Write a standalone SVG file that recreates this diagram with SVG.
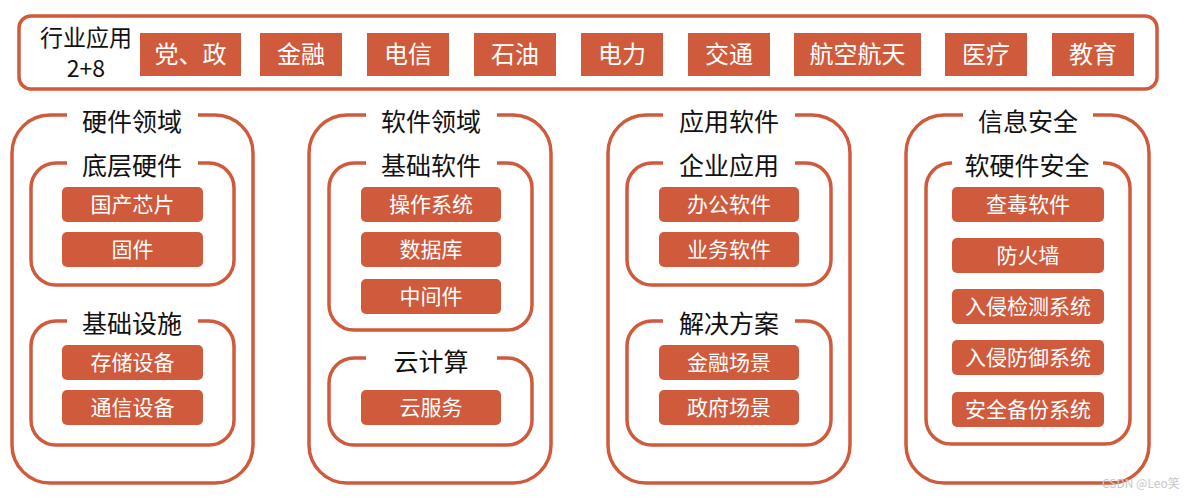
<svg xmlns="http://www.w3.org/2000/svg" width="1190" height="498" viewBox="0 0 1190 498">
<style>
.frame{fill:none;stroke:#D05A3C;stroke-width:3.5}
.top{fill:none;stroke:#D05A3C;stroke-width:3.5}
.rb{fill:#D05A3C}
.rt{fill:#fff;font-family:"Noto Sans CJK SC","Noto Sans",sans-serif;font-size:21px;text-anchor:middle;dominant-baseline:central}
.tt{fill:#fff;font-family:"Noto Sans CJK SC","Noto Sans",sans-serif;font-size:24px;text-anchor:middle;dominant-baseline:central}
.lb{fill:#111;font-family:"Noto Sans CJK SC","Noto Sans",sans-serif;font-size:25px;text-anchor:middle;dominant-baseline:central}
.wm{fill:#c8c8c8;font-family:"Noto Sans CJK SC","Noto Sans",sans-serif;font-size:12px}
</style>
<rect width="1190" height="498" fill="#fff"/>

<g id="industry">
<rect class="top" x="19" y="16" width="1138" height="73" rx="12"/>
<text class="lb" x="86" y="36" style="font-size:23px">行业应用</text>
<text class="lb" x="86" y="67" style="font-size:23px">2+8</text>
<g id="ind-1"><rect class="rb" x="140" y="33" width="101" height="43"/><text class="tt" x="190.5" y="52">党、政</text></g>
<g id="ind-2"><rect class="rb" x="260" y="33" width="82" height="43"/><text class="tt" x="301" y="52">金融</text></g>
<g id="ind-3"><rect class="rb" x="367" y="33" width="82" height="43"/><text class="tt" x="408" y="52">电信</text></g>
<g id="ind-4"><rect class="rb" x="474" y="33" width="82" height="43"/><text class="tt" x="515" y="52">石油</text></g>
<g id="ind-5"><rect class="rb" x="581" y="33" width="82" height="43"/><text class="tt" x="622" y="52">电力</text></g>
<g id="ind-6"><rect class="rb" x="688" y="33" width="82" height="43"/><text class="tt" x="729" y="52">交通</text></g>
<g id="ind-7"><rect class="rb" x="794" y="33" width="127" height="43"/><text class="tt" x="857.5" y="52">航空航天</text></g>
<g id="ind-8"><rect class="rb" x="945" y="33" width="82" height="43"/><text class="tt" x="986" y="52">医疗</text></g>
<g id="ind-9"><rect class="rb" x="1052" y="33" width="82" height="43"/><text class="tt" x="1093" y="52">教育</text></g>
</g>

<g id="hardware">
<path class="frame" d="M198 115 H215 A38 38 0 0 1 253 153 V445 A38 38 0 0 1 215 483 H50 A38 38 0 0 1 12 445 V153 A38 38 0 0 1 50 115 H67"/>
<text class="lb" x="132" y="120">硬件领域</text>
<g id="hw-base">
<path class="frame" d="M198 163 H209 A25 25 0 0 1 234 188 V260 A25 25 0 0 1 209 285 H56 A25 25 0 0 1 31 260 V188 A25 25 0 0 1 56 163 H67"/>
<text class="lb" x="132" y="164">底层硬件</text>
<g id="hw-chip"><rect class="rb" x="62" y="187" width="141" height="35" rx="5"/><text class="rt" x="132.5" y="203">国产芯片</text></g>
<g id="hw-fw"><rect class="rb" x="62" y="232" width="141" height="35" rx="5"/><text class="rt" x="132.5" y="248">固件</text></g>
</g>
<g id="hw-infra">
<path class="frame" d="M198 321 H209 A25 25 0 0 1 234 346 V420 A25 25 0 0 1 209 445 H56 A25 25 0 0 1 31 420 V346 A25 25 0 0 1 56 321 H67"/>
<text class="lb" x="132" y="322">基础设施</text>
<g id="hw-storage"><rect class="rb" x="62" y="345" width="141" height="35" rx="5"/><text class="rt" x="132.5" y="361">存储设备</text></g>
<g id="hw-comm"><rect class="rb" x="62" y="390" width="141" height="35" rx="5"/><text class="rt" x="132.5" y="406">通信设备</text></g>
</g>
</g>

<g id="software">
<path class="frame" d="M497 115 H513 A38 38 0 0 1 551 153 V445 A38 38 0 0 1 513 483 H347 A38 38 0 0 1 309 445 V153 A38 38 0 0 1 347 115 H366"/>
<text class="lb" x="431" y="120">软件领域</text>
<g id="sw-base">
<path class="frame" d="M497 163 H507 A25 25 0 0 1 532 188 V305 A25 25 0 0 1 507 330 H354 A25 25 0 0 1 329 305 V188 A25 25 0 0 1 354 163 H366"/>
<text class="lb" x="431" y="164">基础软件</text>
<g id="sw-os"><rect class="rb" x="361" y="187" width="140" height="35" rx="5"/><text class="rt" x="431" y="203">操作系统</text></g>
<g id="sw-db"><rect class="rb" x="361" y="232" width="140" height="35" rx="5"/><text class="rt" x="431" y="248">数据库</text></g>
<g id="sw-mw"><rect class="rb" x="361" y="279" width="140" height="35" rx="5"/><text class="rt" x="431" y="295">中间件</text></g>
</g>
<g id="sw-cloud">
<path class="frame" d="M497 358 H507 A25 25 0 0 1 532 383 V420 A25 25 0 0 1 507 445 H354 A25 25 0 0 1 329 420 V383 A25 25 0 0 1 354 358 H366"/>
<text class="lb" x="431" y="360">云计算</text>
<g id="sw-cs"><rect class="rb" x="361" y="390" width="140" height="35" rx="5"/><text class="rt" x="431" y="406">云服务</text></g>
</g>
</g>

<g id="application">
<path class="frame" d="M795 115 H812 A38 38 0 0 1 850 153 V445 A38 38 0 0 1 812 483 H646 A38 38 0 0 1 608 445 V153 A38 38 0 0 1 646 115 H663"/>
<text class="lb" x="729" y="120">应用软件</text>
<g id="app-ent">
<path class="frame" d="M795 163 H806 A25 25 0 0 1 831 188 V260 A25 25 0 0 1 806 285 H652 A25 25 0 0 1 627 260 V188 A25 25 0 0 1 652 163 H663"/>
<text class="lb" x="729" y="164">企业应用</text>
<g id="app-office"><rect class="rb" x="659" y="187" width="140" height="35" rx="5"/><text class="rt" x="729" y="203">办公软件</text></g>
<g id="app-biz"><rect class="rb" x="659" y="232" width="140" height="35" rx="5"/><text class="rt" x="729" y="248">业务软件</text></g>
</g>
<g id="app-sol">
<path class="frame" d="M795 321 H806 A25 25 0 0 1 831 346 V420 A25 25 0 0 1 806 445 H652 A25 25 0 0 1 627 420 V346 A25 25 0 0 1 652 321 H663"/>
<text class="lb" x="729" y="322">解决方案</text>
<g id="app-fin"><rect class="rb" x="659" y="345" width="140" height="35" rx="5"/><text class="rt" x="729" y="361">金融场景</text></g>
<g id="app-gov"><rect class="rb" x="659" y="390" width="140" height="35" rx="5"/><text class="rt" x="729" y="406">政府场景</text></g>
</g>
</g>

<g id="security">
<path class="frame" d="M1093 115 H1111 A38 38 0 0 1 1149 153 V445 A38 38 0 0 1 1111 483 H944 A38 38 0 0 1 906 445 V153 A38 38 0 0 1 944 115 H963"/>
<text class="lb" x="1028" y="120">信息安全</text>
<g id="sec-hs">
<path class="frame" d="M1103 163 H1105 A25 25 0 0 1 1130 188 V419 A25 25 0 0 1 1105 444 H951 A25 25 0 0 1 926 419 V188 A25 25 0 0 1 951 163 H952"/>
<text class="lb" x="1027" y="164">软硬件安全</text>
<g id="sec-av"><rect class="rb" x="952" y="187" width="152" height="35" rx="5"/><text class="rt" x="1028" y="203">查毒软件</text></g>
<g id="sec-fw"><rect class="rb" x="952" y="238" width="152" height="35" rx="5"/><text class="rt" x="1028" y="254">防火墙</text></g>
<g id="sec-ids"><rect class="rb" x="952" y="289" width="152" height="35" rx="5"/><text class="rt" x="1028" y="305">入侵检测系统</text></g>
<g id="sec-ips"><rect class="rb" x="952" y="340" width="152" height="35" rx="5"/><text class="rt" x="1028" y="356">入侵防御系统</text></g>
<g id="sec-bak"><rect class="rb" x="952" y="392" width="152" height="35" rx="5"/><text class="rt" x="1028" y="408">安全备份系统</text></g>
</g>
</g>

<g id="connectors"></g>

<text class="wm" x="1102" y="488">CSDN @Leo笑</text>
</svg>
